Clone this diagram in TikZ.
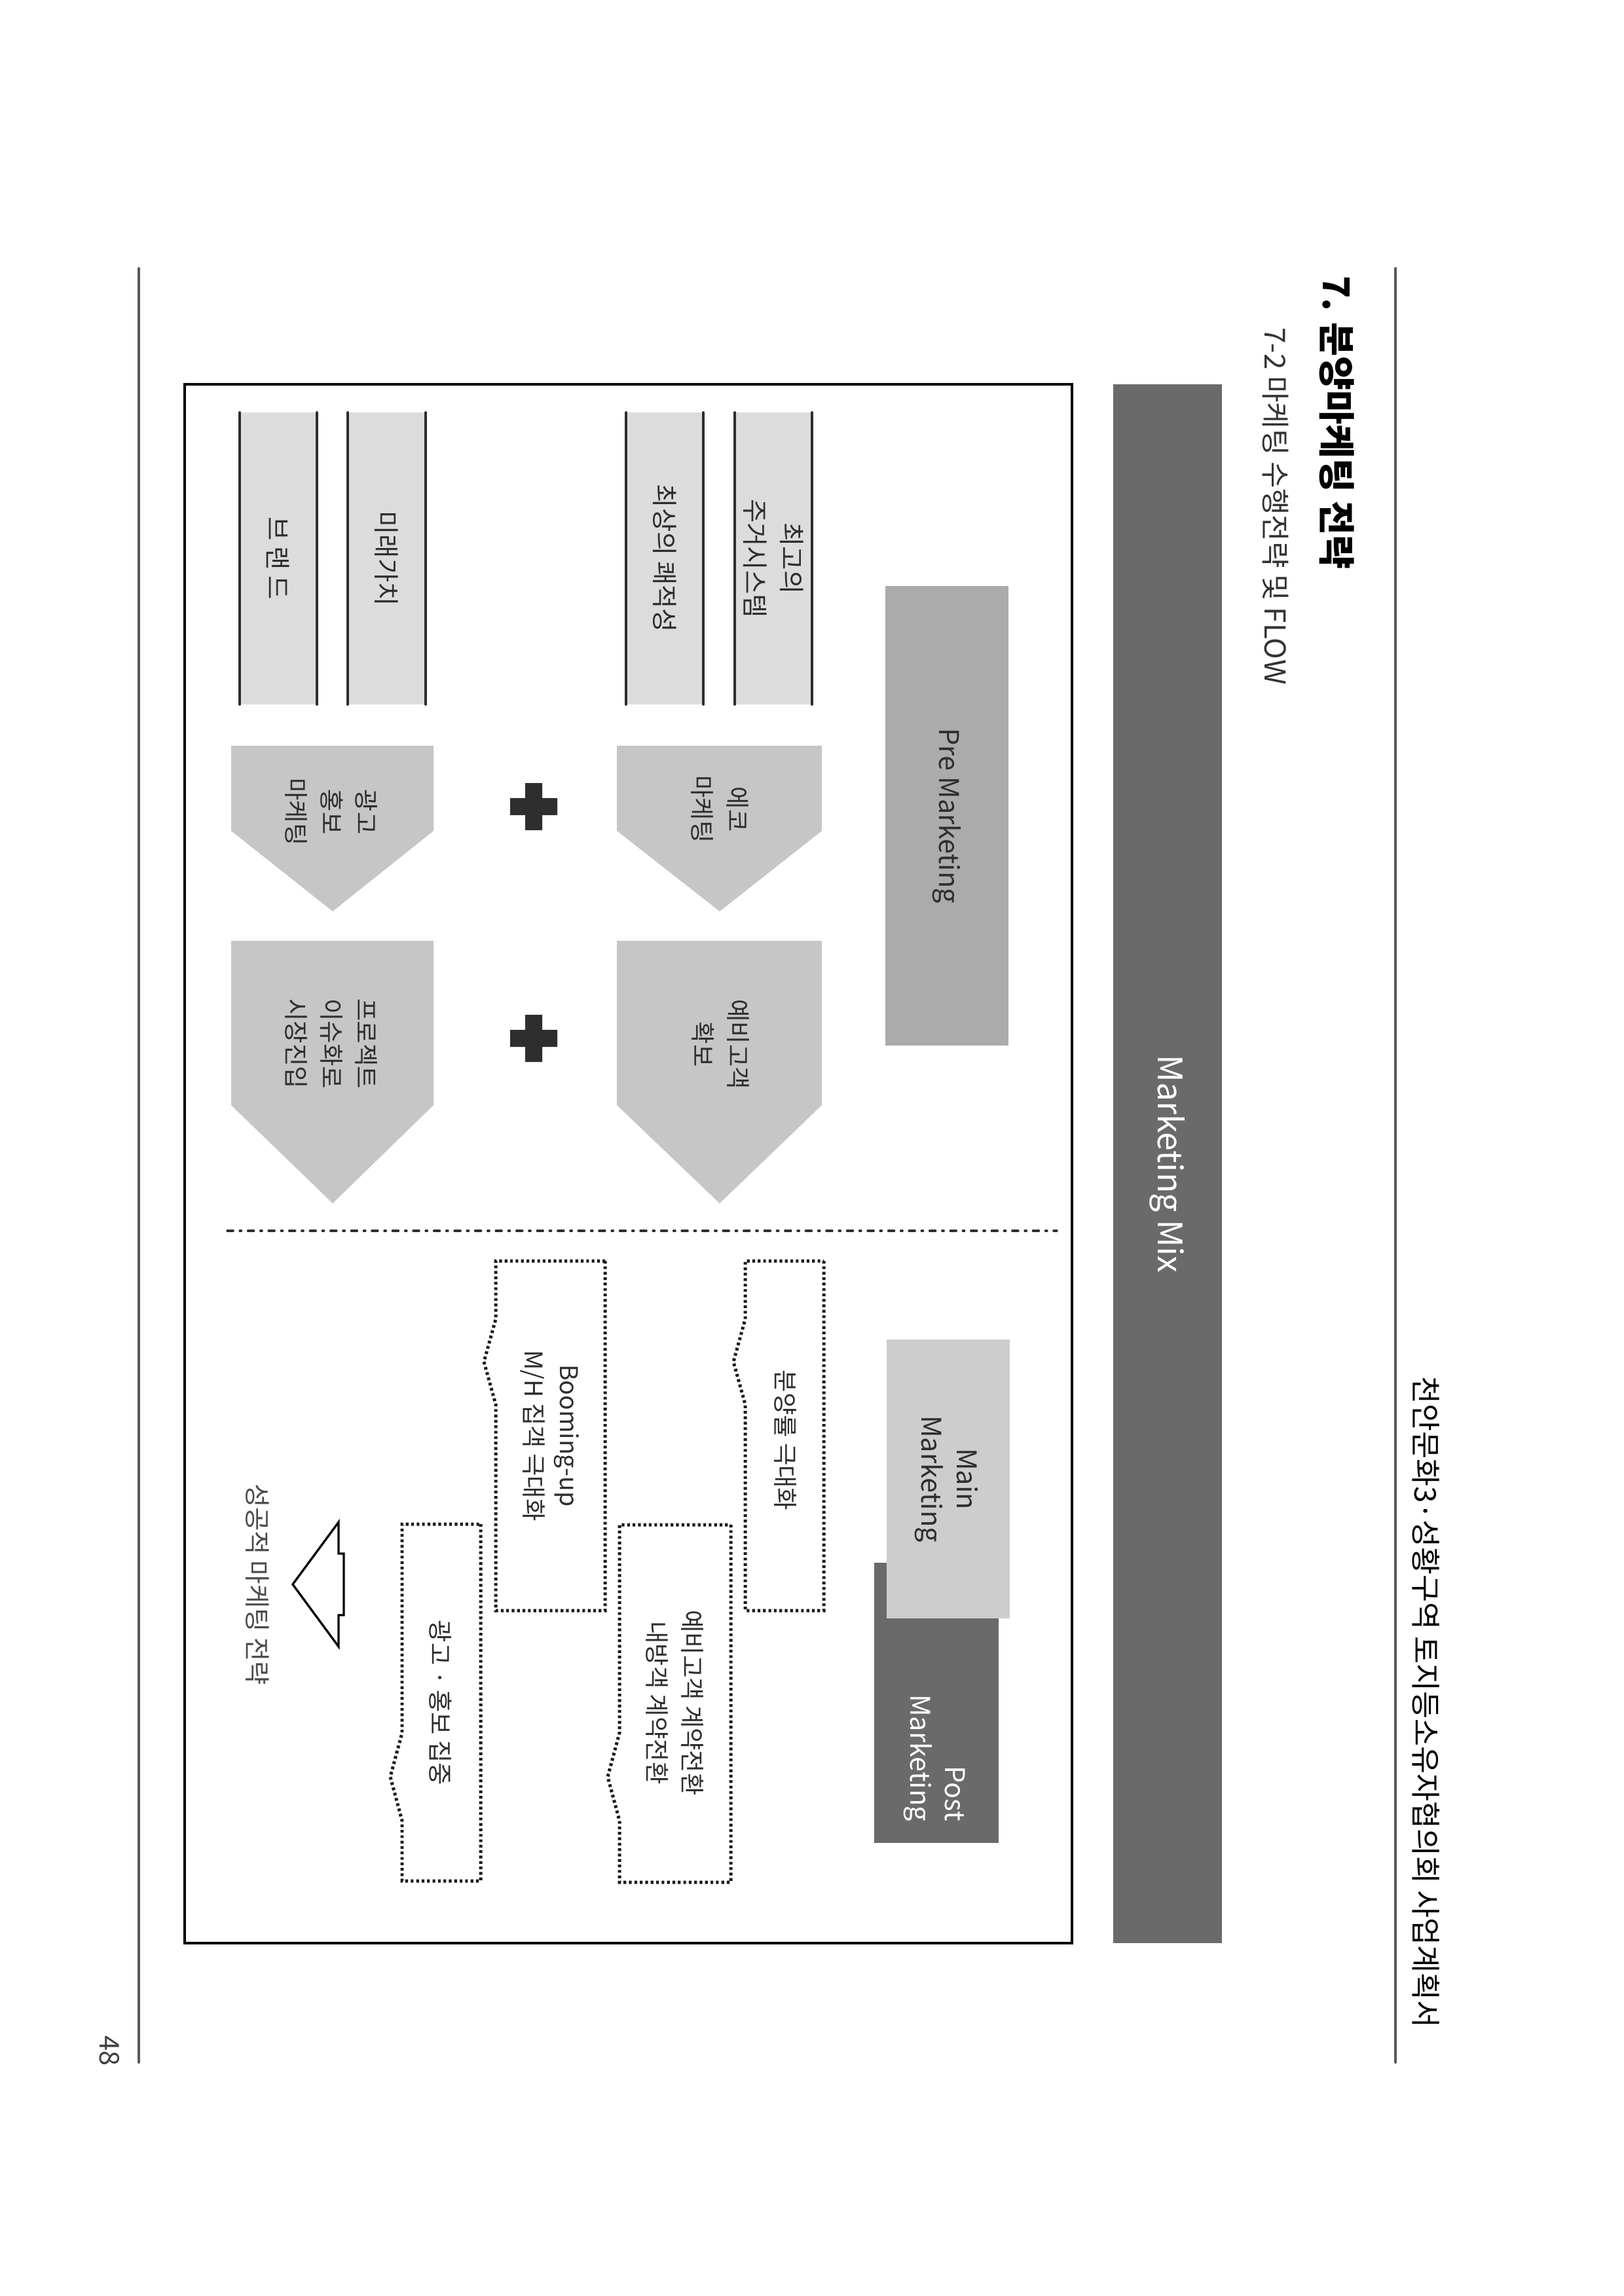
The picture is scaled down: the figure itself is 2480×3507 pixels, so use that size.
\documentclass[tikz,border=0pt]{standalone}
\usepackage{fontspec}
\setmainfont{Noto Sans CJK KR}
\definecolor{bardark}{HTML}{6A6A6A}
\definecolor{premid}{HTML}{ABABAB}
\definecolor{mainlight}{HTML}{CDCDCD}
\definecolor{pentgray}{HTML}{C6C6C6}
\definecolor{colgray}{HTML}{DCDCDC}
\definecolor{inkgray}{HTML}{2E2E2E}
\tikzset{
  txt/.style={rotate=-90, inner sep=0pt, align=center, text=inkgray, font=\fontsize{9}{13}\selectfont},
  coltxt/.style={txt, font=\fontsize{9.5}{13.5}\selectfont},
  hdr/.style={txt, text=black, font=\fontsize{11}{13}\selectfont},
  ttl/.style={txt, text=black, font=\bfseries\fontsize{13.6}{16}\selectfont},
  subttl/.style={txt, text=black!80, font=\fontsize{10.6}{12}\selectfont},
  tabtxt/.style={txt, font=\fontsize{10}{13}\selectfont},
  pageline/.style={draw=black!65, line width=1pt},
  frameline/.style={draw=black, line width=0.9pt},
  colline/.style={draw=inkgray, line width=0.9pt},
  dashdotline/.style={draw=inkgray, line width=0.8pt, dash pattern=on 2.2pt off 2.4pt on 0.6pt off 2.4pt},
  dotline/.style={draw=black!90, line width=1.2pt, line cap=butt, dash pattern=on 1pt off 1pt},
  hollowline/.style={draw=black, line width=0.8pt, line join=miter}
}
\begin{document}
\begin{tikzpicture}[x=0.0846667mm, y=-0.0846667mm, line cap=round]
\useasboundingbox (0,0) rectangle (2480,3507);
\fill[white] (0,0) rectangle (2480,3507);

% page head and foot
\draw[pageline] (212,410) -- (212,3150);
\draw[pageline] (2131,410) -- (2131,3150);
\node[hdr] (doctitle) at (2178,2600) {천안문화3·성황구역 토지등소유자협의회 사업계획서};
\node[ttl] (sectitle) at (2042,645) {7. 분양마케팅 전략};
\node[subttl] (subtitle) at (1948,773) {7-2 마케팅 수행전략 및 FLOW};
\node[txt, text=black!75, font=\fontsize{10}{12}\selectfont] (pageno) at (167,3132) {48};

% frame and mix bar
\draw[frameline] (282,587) rectangle (1637,2968);
\fill[bardark] (1700,587) rectangle (1866,2968);
\node[txt, text=white, font=\fontsize{12.4}{14}\selectfont] (mix) at (1783,1778) {Marketing Mix};

% phase tabs
\fill[premid] (1352,895) rectangle (1540,1597);     % pre
\node[tabtxt] (pre) at (1446,1246) {Pre Marketing};
\fill[bardark] (1335,2387) rectangle (1525,2815);   % post
\node[tabtxt, text=white, align=right] (post) at (1427,2685) {Post\\Marketing};
\fill[mainlight] (1354,2046) rectangle (1542,2472); % main
\node[tabtxt] (main) at (1445,2259) {Main\\Marketing};

% value columns
\foreach \xa/\xb/\lab/\nm in {1122/1240/{최고의\\주거시스템}/housing, 956/1074/{최상의 쾌적성}/comfort, 531/650/{미래가치}/future, 366/484/{브 랜 드}/brand}{
  \fill[colgray] (\xa,630) rectangle (\xb,1076);
  \draw[colline] (\xa,630) -- (\xa,1076) (\xb,630) -- (\xb,1076);
  \node[coltxt] (\nm) at ({(\xa+\xb)/2},853) {\lab};
}

% pentagon arrows
\fill[pentgray] (942,1139) -- (1255,1139) -- (1255,1269) -- (1099,1392) -- (942,1269) -- cycle;   % eco
\fill[pentgray] (353,1139) -- (662,1139) -- (662,1269) -- (508,1392) -- (353,1269) -- cycle;     % ad
\fill[pentgray] (942,1437) -- (1255,1437) -- (1255,1688) -- (1099,1838) -- (942,1688) -- cycle;  % customer
\fill[pentgray] (353,1437) -- (662,1437) -- (662,1688) -- (508,1838) -- (353,1688) -- cycle;     % issue
\node[txt] (eco) at (1099,1236) {에코\\마케팅};
\node[txt] (admkt) at (506,1240) {광고\\홍보\\마케팅};
\node[txt] (precust) at (1100,1595) {예비고객\\확보};
\node[txt] (issue) at (506,1594) {프로젝트\\이슈화로\\시장진입};

% plus signs
\fill[inkgray] (779,1219) rectangle (851,1245) (802,1196) rectangle (828,1268);
\fill[inkgray] (779,1573) rectangle (851,1599) (802,1550) rectangle (828,1622);

\draw[dashdotline] (347,1880) -- (1614,1880);

% dotted ribbons
\draw[dotline] (1258,1926) -- (1258,2460) -- (1138,2460) -- (1138,2145) -- (1120,2080) -- (1138,2015) -- (1138,1926) -- cycle;
\draw[dotline] (924,1926) -- (924,2460) -- (757,2460) -- (757,2145) -- (739,2080) -- (757,2015) -- (757,1926) -- cycle;
\draw[dotline] (1116,2329) -- (1116,2875) -- (946,2875) -- (946,2781) -- (928,2714) -- (946,2647) -- (946,2329) -- cycle;
\draw[dotline] (734,2328) -- (734,2873) -- (614,2873) -- (614,2781) -- (596,2714) -- (614,2647) -- (614,2328) -- cycle;
\node[txt] (rate) at (1199,2200) {분양률 극대화};
\node[txt] (boom) at (840,2193) {Booming-up\\M/H 집객 극대화};
\node[txt] (contract) at (1031,2601) {예비고객 계약전환\\내방객 계약전환};
\node[txt] (focus) at (673,2601) {광고 · 홍보 집중};

% result arrow
\draw[hollowline] (447,2420) -- (517,2325) -- (517,2373) -- (525,2373) -- (525,2467) -- (517,2467) -- (517,2515) -- cycle;
\node[txt, text=black!70, font=\fontsize{9.5}{12}\selectfont] (success) at (393,2420) {성공적 마케팅 전략};
\end{tikzpicture}
\end{document}
